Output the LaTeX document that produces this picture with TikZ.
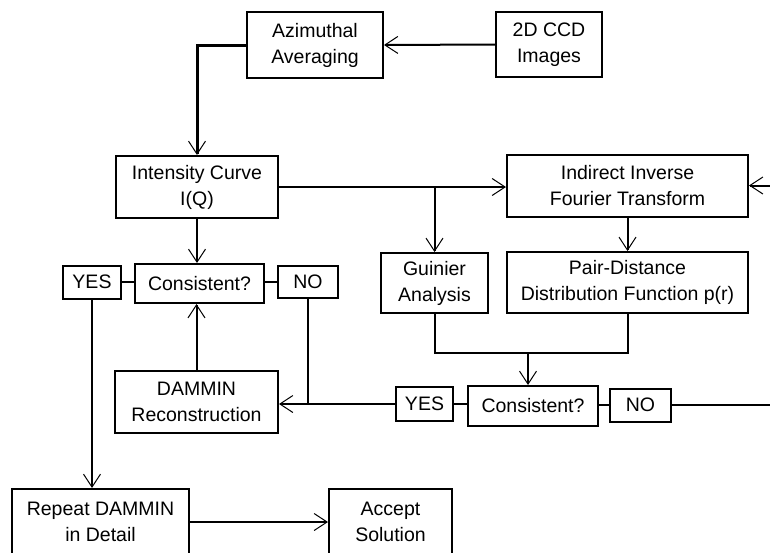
\documentclass[tikz,border=0pt]{standalone}
\usepackage{fontspec}
\setmainfont{Liberation Sans}
\usetikzlibrary{arrows.meta}
\begin{document}
\begin{tikzpicture}[x=1pt,y=-1pt,
  box/.style={draw, line width=2pt, align=center, inner sep=0pt,
    font=\fontsize{19.5}{26}\selectfont},
  link/.style={line width=2pt},
  thick link/.style={line width=3pt},
  tip/.style={-{Straight Barb[length=13pt,width=17pt,line width=1pt]}},
  arr/.style={link, tip}]
\clip (0,0) rectangle (770,552);
% nodes
\node[box, minimum width=136pt, minimum height=66pt] (azim) at (315,45) {Azimuthal\\Averaging};
\node[box, minimum width=106pt, minimum height=65pt] (ccd) at (549,44.5) {2D CCD\\Images};
\node[box, minimum width=162pt, minimum height=62pt] (intensity) at (197,187) {Intensity Curve\\I(Q)};
\node[box, minimum width=241pt, minimum height=62pt] (indirect) at (627.5,185.5) {Indirect Inverse\\Fourier Transform};
\node[box, minimum width=107pt, minimum height=60pt] (guinier) at (434.5,283) {Guinier\\Analysis};
\node[box, minimum width=241pt, minimum height=61pt] (pair) at (627.5,282.5) {Pair-Distance\\Distribution Function p(r)};
\node[box, minimum width=129pt, minimum height=39pt] (cons1) at (199.5,283.5) {Consistent?};
\node[box, minimum width=58pt, minimum height=33pt] (yes1) at (92,282) {YES};
\node[box, minimum width=60pt, minimum height=32pt] (no1) at (308,282) {NO};
\node[box, minimum width=163pt, minimum height=62pt] (dammin) at (196.5,401.5) {DAMMIN\\Reconstruction};
\node[box, minimum width=57pt, minimum height=34pt] (yes2) at (424.5,404) {YES};
\node[box, minimum width=130pt, minimum height=40pt] (cons2) at (533,406) {Consistent?};
\node[box, minimum width=61pt, minimum height=33pt] (no2) at (640.5,405) {NO};
\node[box, minimum width=177pt, minimum height=66pt] (repeat) at (100.5,522) {Repeat DAMMIN\\in Detail};
\node[box, minimum width=123pt, minimum height=66pt] (accept) at (390.5,522) {Accept\\Solution};
\coordinate (mj) at (528,353);
\coordinate (rr) at (790,0);
% connectors
\draw[arr] (ccd.west) -- (azim.east);
\draw[thick link, tip] (azim.west) -| (intensity.north);
\draw[arr] (intensity.east) -- (intensity.east -| indirect.west);
\draw[arr] (guinier.north |- intensity.east) -- (guinier.north);
\draw[arr] (indirect.south) -- (pair.north);
\draw[link] (guinier.south) |- (mj) -| (pair.south);
\draw[arr] (mj) -- (mj |- cons2.north);
\draw[arr] (intensity.south) -- (intensity.south |- cons1.north);
\draw[arr] (dammin.north) -- (dammin.north |- cons1.south);
\draw[link] (yes1.east) -- (yes1.east -| cons1.west);
\draw[link] (no1.west) -- (no1.west -| cons1.east);
\draw[arr] (yes1.south) -- (yes1.south |- repeat.north);
\draw[link] (no1.south) -- (no1.south |- yes2.west);
\draw[arr] (yes2.west) -- (yes2.west -| dammin.east);
\draw[link] (yes2.east) -- (yes2.east -| cons2.west);
\draw[link] (no2.west) -- (no2.west -| cons2.east);
\draw[arr] (no2.east) -- (no2.east -| rr) |- (indirect.east);
\draw[arr] (repeat.east) -- (accept.west);
\end{tikzpicture}
\end{document}
